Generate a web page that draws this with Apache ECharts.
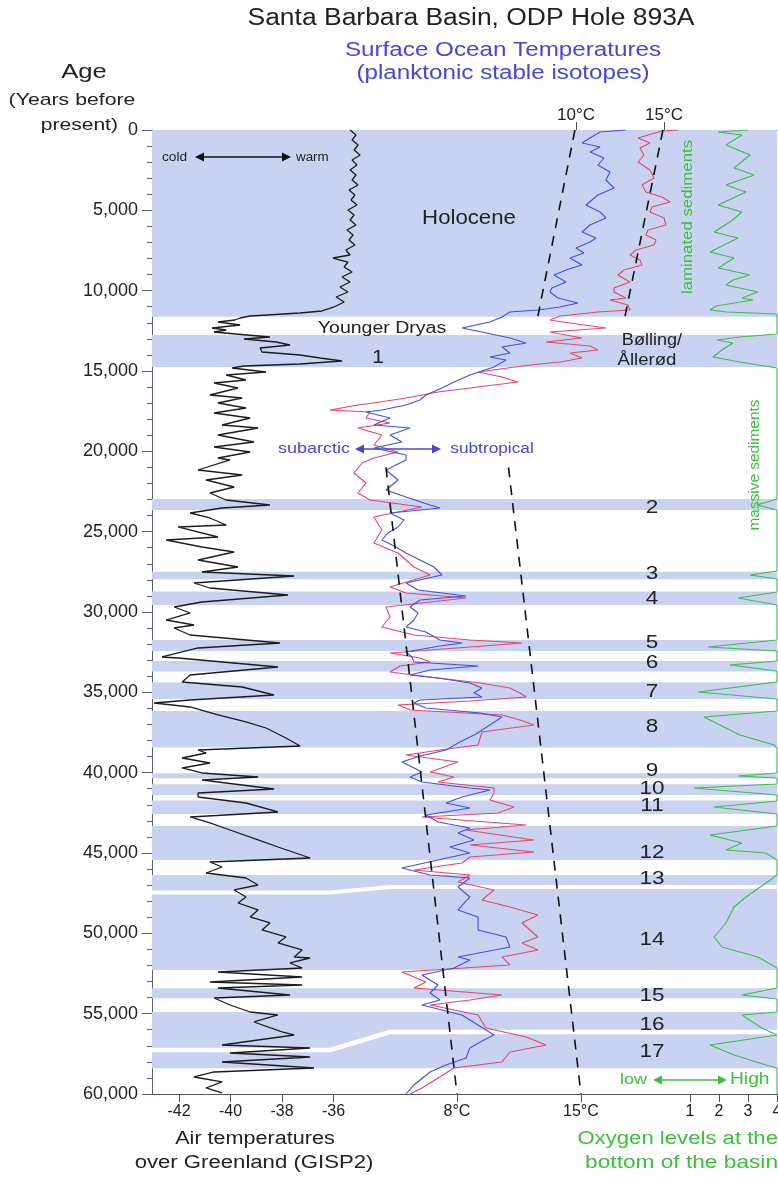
<!DOCTYPE html>
<html><head><meta charset="utf-8">
<script src="https://cdn.jsdelivr.net/npm/echarts@6/dist/echarts.min.js"></script>
<style>html,body{margin:0;padding:0;background:#fff}#c{width:778px;height:1188px}</style>
</head><body><div id="c"></div>
<script>
// ---------- DATA (age in years BP, value) ----------
const gispTicks = [-42,-40,-38,-36];
const sstBottomTicks = [8,15];
const sstTopTicks = [10,15];
const oxygenTicks = [1,2,3,4];

// interstadial (warm) bands [start age, end age]
const bands = [[0,11620],[12760,14750],[22970,23650],[27490,27960],[28730,29560],[31740,32430],[33050,33710],[34380,35410],[36160,38440],[40040,40350],[40720,41390],[41740,42570],[43320,45430],[46370,52280],[53420,54040],[54890,58400]];
// thin white separators inside merged bands [age, GISP2-scale x]
const gapLine1 = [[47460,-43.05],[47460,-36.14],[47120,-33.81],[47120,-18.78]];
const gapLine2 = [[57260,-43.05],[57260,-36.14],[56140,-33.81],[56140,-18.78]];

// band numbers [label, age]
const bandLabels = [['2',23500],['3',27650],['4',29200],['5',31930],['6',33180],['7',34980],['8',37170],['9',39880],['10',41020],['11',42070],['12',45000],['13',46620],['14',50420],['15',53900],['16',55700],['17',57380]];

// GISP2 air temperature (°C)
const gisp2 = [[0,-35.36],[311,-35.13],[622,-35.28],[934,-35.05],[1245,-35.20],[1556,-34.97],[1867,-35.28],[2178,-35.09],[2490,-35.36],[2801,-35.13],[3112,-35.28],[3423,-35.05],[3734,-35.40],[4046,-35.17],[4357,-35.32],[4668,-35.09],[4979,-35.44],[5290,-35.20],[5602,-35.36],[5913,-35.13],[6224,-35.48],[6535,-35.24],[6846,-35.40],[7158,-35.17],[7469,-35.52],[7780,-35.36],[7967,-36.02],[8216,-35.44],[8527,-35.59],[8838,-35.28],[9149,-35.67],[9460,-35.36],[9772,-35.75],[10083,-35.44],[10394,-35.90],[10705,-35.59],[11016,-35.98],[11265,-36.45],[11390,-37.30],[11577,-39.24],[11701,-39.63],
[11826,-39.83],[11950,-40.49],[12137,-39.63],[12323,-40.72],[12448,-40.17],[12572,-40.64],[12697,-39.79],[12884,-38.47],[13008,-39.48],[13195,-38.23],[13382,-37.69],[13569,-38.85],[13817,-38.78],[14004,-37.30],[14191,-36.52],[14378,-35.67],[14564,-37.30],[14689,-39.48],[14813,-39.94],
[15062,-38.62],[15249,-40.17],[15560,-39.40],[15747,-40.64],[16058,-39.71],[16494,-40.80],[16680,-39.55],[16992,-40.49],[17303,-39.40],[17614,-40.64],[17925,-39.24],[18361,-40.33],[18548,-38.93],[18983,-40.49],[19419,-39.09],[19730,-40.64],[20041,-39.24],[20415,-40.49],[20539,-40.02],[21162,-41.26],[21473,-39.55],[21784,-40.95],[22220,-39.86],[22593,-40.80],[23029,-40.17],[23340,-38.47],[23527,-40.33],[23838,-41.57],[24149,-40.80],[24585,-40.17],[24709,-42.04],[25332,-40.49],[25518,-42.50],[25954,-41.11],[26265,-39.86],[26763,-41.26],[27199,-39.71],[27510,-41.11],[27759,-37.53],[28195,-41.42],[28506,-40.80],[28942,-37.77],[29377,-41.11],[29688,-42.19],[30062,-41.57],[30498,-42.50],[30809,-41.42],
[30996,-42.19],[31431,-41.57],[31929,-38.08],[32240,-41.26],[32800,-42.66],[32863,-42.04],[33423,-38.16],[33921,-41.57],[34356,-41.88],[34668,-39.55],[35166,-38.31],[35477,-41.57],[35664,-42.97],[35912,-41.57],[36410,-40.49],[36846,-39.40],[37220,-38.62],[37842,-37.85],[38340,-37.30],[38589,-41.26],[38776,-40.95],[39087,-41.88],[39398,-40.80],[39709,-41.88],[40020,-41.11],[40269,-38.93],[40456,-41.11],[41016,-38.31],[41265,-41.26],
[41514,-41.26],[41888,-39.40],[42448,-38.16],[42759,-41.57],[43132,-40.80],[43568,-40.02],[44190,-38.93],[44626,-38.16],[45311,-36.91],[45560,-40.80],[45871,-40.33],[46244,-40.95],[46556,-39.40],[46991,-38.93],[47302,-39.86],[47738,-39.40],[48112,-39.71],[48547,-38.93],[48983,-39.24],[49356,-38.47],[49792,-38.78],[50228,-37.85],[50601,-38.16],[51037,-37.22],[51472,-37.53],
[51535,-36.91],[51846,-37.69],[52157,-37.22],[52406,-40.49],[52717,-37.22],[53028,-40.80],[53215,-37.22],[53402,-40.49],[53838,-37.69],[54024,-40.64],[54460,-40.02],[54896,-39.24],[55082,-38.16],[55518,-39.09],[56140,-38.00],[56327,-37.53],[56950,-40.33],[57136,-36.91],[57448,-40.02],[57696,-36.91],[58008,-40.33],[58381,-36.76],[58630,-40.64],[58941,-41.42],[59252,-40.33],[59626,-40.95],[59937,-40.33]];

// Planktonic isotope temperatures (plotted on bottom °C scale)
const sstBlue = [[0,17.54],[124,16.08],[498,15.51],[809,15.06],[1058,16.08],[1369,15.51],[1743,16.30],[2178,15.96],[2614,16.64],[3112,16.41],[3610,16.87],[4046,15.96],[4668,15.28],[5104,16.08],[5477,16.41],[5913,15.51],[6348,15.06],[6722,15.85],[6971,15.51],[7344,14.72],[7656,15.17],[7967,14.38],[8402,15.06],[8714,14.16],[9025,13.48],[9460,14.16],[9834,13.36],[10083,13.25],[10456,13.70],[10768,14.83],[11016,13.82],[11203,12.57],[11328,10.99],[11639,10.54],[11950,9.86],[12323,8.28],[12572,9.41],[12946,10.99],[13257,11.90],[13506,10.54],[13880,10.99],[14128,9.86],[14315,10.77],[14751,10.09],[15249,8.73],[15684,7.83],[16058,7.15],[16494,6.25],[16805,5.91],[17116,5.12],[17427,3.76],[17552,2.86],[17925,4.22],[18361,3.31],[18548,5.35],[18983,4.22],[19419,4.89],[19792,3.31],[20228,5.12],
[20539,5.12],[21162,3.99],[21784,4.67],[22406,3.99],[22842,5.12],[23340,6.48],[23527,7.04],[23838,4.22],[24274,5.01],[24709,4.67],[25083,4.10],[25518,3.76],[25954,4.56],[26327,5.12],[26763,5.91],[27199,6.70],[27697,7.15],[28195,5.12],[28630,5.80],[29004,8.51],[29253,5.91],[29688,5.35],[30062,5.80],[30498,5.57],[30933,5.12],[31244,6.25],[31742,7.04],[31929,8.28],[32116,7.04],[32489,5.12],[32800,5.46],[33111,5.57],[33360,9.19],[33608,6.48],[33921,5.35],[34107,6.93],[34419,8.73],[34730,9.41],[35041,8.96],[35290,9.41],[35477,5.91],[35664,5.57],[35976,6.25],[36286,9.30],[36535,10.54],[37033,9.86],[37593,9.07],[38153,8.06],[38589,7.38],[38962,5.91],[39336,4.89],[39647,5.46],[39958,6.02],[40269,5.35],[40580,6.02],[40953,8.73],[41078,9.86],[41514,8.28],[41888,7.38],[42199,8.73],[42634,6.25],[43070,6.93],[43444,8.73],[43755,8.06],[44190,8.96],[44626,7.60],[44999,8.73],[45435,6.93],[45933,4.89],[46369,6.48],[46556,8.73],[47116,8.06],[47738,8.73],[48547,8.06],[48983,9.19],[49792,9.19],[50228,10.77],[50850,10.99],[51472,8.06],[51659,8.73],[52157,7.83],[52592,6.02],[53215,6.93],[53713,6.48],[54149,7.04],[54460,6.02],[55082,8.28],[55705,9.19],[56327,10.09],[56763,9.30],[57136,8.73],[57758,8.51],[58194,7.38],[58630,6.48],[59439,5.57],[60000,5.12]];

const sstRed = [[0,20.48],[62,19.58],[498,18.22],[809,18.90],[1120,18.33],[1556,18.56],[1992,18.22],[2490,18.90],[2988,19.12],[3423,18.45],[3859,18.67],[4170,19.58],[4481,20.03],[4793,19.01],[5104,18.90],[5477,19.69],[5913,19.80],[6224,18.79],[6535,18.67],[6846,19.24],[7158,19.12],[7469,18.11],[7780,17.77],[8091,18.33],[8402,18.45],[8714,17.43],[9025,17.09],[9460,17.77],[9834,16.87],[10083,16.87],[10456,17.54],[10581,16.64],[10892,17.65],[11203,17.77],[11328,15.96],[11577,13.82],[11826,13.25],[12013,14.38],[12323,16.41],[12572,13.25],[12946,15.06],[13195,13.03],[13444,15.51],[13693,15.96],[13880,14.38],[14191,15.06],[14440,13.82],[14626,12.12],[15062,9.19],[15373,10.54],[15684,11.44],[15996,9.19],[16307,6.93],[16680,5.12],[16929,3.65],[17116,2.41],[17427,0.83],[17552,3.09],[17925,2.86],[18236,4.22],[18548,2.41],[18983,3.76],[19605,3.31],[20041,4.67],[20415,3.31],[20726,2.64],[21349,2.18],[21971,2.86],[22593,2.41],[23029,3.09],[23465,6.02],[24087,3.31],[24896,3.76],[25705,3.31],[26327,4.67],[27199,5.57],[27697,6.48],[28444,4.22],[28817,5.12],[29128,8.51],[29688,3.99],[30311,4.22],[30933,3.76],
[31431,5.57],[31742,8.73],[31929,11.67],[32178,8.73],[32551,4.22],[32863,5.91],[33111,6.48],[33360,4.78],[33733,4.22],[34107,6.93],[34419,9.30],[34730,10.99],[35041,11.56],[35290,11.90],[35540,8.73],[35790,4.67],[36099,5.35],[36410,10.54],[36722,11.56],[37033,12.35],[37468,9.41],[38277,9.19],[38589,7.04],[38900,5.12],[39336,8.06],[39958,6.48],[40269,7.83],[40580,6.93],[40953,10.09],[41265,10.09],
[41701,9.86],[42137,11.22],[42510,10.32],[42759,6.02],[43257,11.90],[43568,8.51],[44190,12.35],[44502,8.73],[44937,12.35],[45248,8.73],[45622,8.28],[46058,5.57],[46369,8.73],[46805,8.06],[47302,10.09],[47925,9.41],[48360,10.99],[48858,12.57],[49356,11.67],[49792,12.12],[50228,12.57],[50601,11.67],[51037,12.57],[51472,10.54],
[51970,10.99],[52406,4.89],[53028,6.25],[53402,5.57],[53838,10.54],[54149,8.73],[54460,6.48],[55082,9.19],[55892,9.64],[56452,11.90],[56950,13.03],[57385,10.99],[58008,10.54],[58381,7.83],[59003,6.93],[59626,6.02],[60000,5.35]];

// Oxygen level at the bottom of the basin (1 = low ... 4 = high)
const oxygen = [[0,3.00],[124,1.97],[311,2.79],[934,2.24],[1556,3.07],[2365,2.52],[2801,3.21],[3423,2.24],[3859,2.93],[4668,1.97],[5104,2.79],[5726,2.38],[6348,1.83],[6722,2.66],[7593,1.69],[7967,2.52],[8589,1.97],[9025,3.07],[9336,2.48],[9647,2.24],[10083,3.34],[10456,2.79],[10581,3.17],[10954,1.90],[11203,1.69],[11328,2.28],[11452,4.0],[12697,4.0],[12884,2.72],[13070,1.93],[13257,2.48],[13693,2.10],[14128,1.79],[14440,2.72],[14813,4.0],[22967,4.0],[23340,3.31],[23651,4.0],[27448,4.0],[27697,3.07],[27946,4.0],[28755,4.0],[29128,2.66],[29564,4.0],[31742,4.0],[32178,1.62],[32427,4.0],[33049,4.0],[33298,2.38],[33671,4.0],[34356,4.0],[34979,1.28],[35415,4.0],[36161,4.0],[36535,1.48],[37033,2.03],[37655,2.72],[38277,3.90],[38464,4.0],[40020,4.0],[40207,2.66],[40332,4.0],[40705,4.0],[40953,1.14],[41389,4.0],[41764,4.0],[42137,1.83],[42572,4.0],[43319,4.0],[43879,1.69],[44377,2.79],[44813,2.24],[44999,3.62],[45435,4.0],[46369,4.0],[46867,3.62],[47738,2.93],[48360,2.52],[49356,2.24],[50228,1.83],[50850,2.10],[51472,3.34],[52157,4.0],[53402,4.0],[53838,2.79],[54087,4.0],[54896,4.0],[55082,2.79],[55892,3.48],[56327,4.0],[56950,1.69],[57572,2.52],[58194,3.62],[58381,4.0],[60000,4.0]];

// dashed isotherm guide lines (bottom °C scale)
const isoUpper10 = [[0,14.66],[11580,12.57]];
const isoUpper15 = [[0,19.63],[11580,17.49]];
const isoLower8  = [[21000,3.99],[60000,8.0]];
const isoLower15 = [[21000,10.91],[60000,15.0]];

// ---------- CHART ----------
const FONT = '"Liberation Sans", Arial, sans-serif';
const BAND = '#c9d3f1';
const BLUE = '#3f4fe6', RED = '#e5456a', GREEN = '#3cbc4a', BLACK = '#1c1c1c';
const BLUE_T = '#4646d8', GREEN_T = '#3cbf3c';
const L = 152, T = 130, W = 625, H = 964;

const chart = echarts.init(document.getElementById('c'), null, {renderer:'canvas'});
const flip = arr => arr.map(d => [d[1], d[0]]);

function line(name, data, xi, color, width, extra) {
  return Object.assign({
    name, type:'line', xAxisIndex:xi, yAxisIndex:0, data:flip(data),
    showSymbol:false, symbol:'none', animation:false, silent:true,
    lineStyle:{color, width}, z:3
  }, extra || {});
}
function dashed(data) {
  return line('iso', data, 1, '#111', 1.6, {lineStyle:{color:'#111', width:1.6, type:[10,8]}, z:4});
}
function arrow(x1, x2, y, color) {
  const h = 4.5, len = 9;
  return [
    {type:'line', z:10, shape:{x1:x1+len-2, y1:y, x2:x2-len+2, y2:y}, style:{stroke:color, lineWidth:1.6}, silent:true},
    {type:'polygon', z:10, shape:{points:[[x1,y],[x1+len,y-h],[x1+len,y+h]]}, style:{fill:color}, silent:true},
    {type:'polygon', z:10, shape:{points:[[x2,y],[x2-len,y-h],[x2-len,y+h]]}, style:{fill:color}, silent:true}
  ];
}
function txt(text, x, y, size, color, align, sx, extra) {
  return Object.assign({type:'text', x, y, silent:true, z:10, scaleX: sx || 1,
    style:{text, fill:color, font: size + 'px ' + FONT, align: align || 'center', verticalAlign:'middle'}}, extra || {});
}

const tickStyle = {color:'#555', width:1};
const lblStyle = {fontSize:16, color:'#222', fontFamily:FONT};
function xAx(o) {
  return Object.assign({type:'value', splitLine:{show:false}, axisLine:{show:false, onZero:false}}, o);
}

const option = {
  animation:false,
  backgroundColor:'#fff',
  grid:{left:L, top:T, width:W, height:H, containLabel:false, outerBoundsMode:'none'},
  yAxis:{
    type:'value', inverse:true, min:0, max:60000, interval:5000,
    axisLine:{show:true, onZero:false, lineStyle:{color:'#5a6172', width:1}},
    axisTick:{show:true, length:10, lineStyle:{color:'#5a6172'}},
    minorTick:{show:true, splitNumber:5, length:5, lineStyle:{color:'#5a6172'}},
    axisLabel:{margin:14, fontSize:18, color:'#222', fontFamily:FONT,
      formatter: v => v === 0 ? '0' : v.toLocaleString('en-US')},
    splitLine:{show:false}
  },
  xAxis:[
    xAx({position:'bottom', min:-43.05, max:-18.78,
      axisLine:{show:true, onZero:false, lineStyle:{color:'#555', width:1}},
      axisTick:{show:true, customValues:gispTicks, length:8, lineStyle:tickStyle},
      axisLabel:Object.assign({customValues:gispTicks, margin:10}, lblStyle)}),
    xAx({position:'bottom', min:-9.22, max:26.07,
      axisTick:{show:true, customValues:sstBottomTicks, length:8, lineStyle:tickStyle},
      axisLabel:Object.assign({customValues:sstBottomTicks, margin:10, formatter:'{value}°C'}, lblStyle)}),
    xAx({position:'bottom', min:-17.55, max:4,
      axisTick:{show:true, customValues:oxygenTicks, length:8, lineStyle:tickStyle},
      axisLabel:Object.assign({customValues:oxygenTicks, margin:10}, lblStyle)}),
    xAx({position:'top', min:-14.09, max:21.42,
      axisLine:{show:true, onZero:false, lineStyle:{color:'#555', width:1}},
      axisTick:{show:true, customValues:sstTopTicks, length:8, lineStyle:tickStyle},
      axisLabel:Object.assign({customValues:sstTopTicks, margin:6, formatter:'{value}°C'}, lblStyle, {fontSize:17})})
  ],
  series:[
    {type:'line', name:'bands', xAxisIndex:0, yAxisIndex:0, data:[[-43,0]], symbol:'none', showSymbol:false,
      lineStyle:{opacity:0}, silent:true, z:1,
      markArea:{silent:true, itemStyle:{color:BAND}, data: bands.map(b => [{yAxis:b[0]}, {yAxis:b[1]}])}},
    line('gap1', gapLine1, 0, '#ffffff', 4, {z:2}),
    line('gap2', gapLine2, 0, '#ffffff', 4.5, {z:2}),
    dashed(isoUpper10), dashed(isoUpper15), dashed(isoLower8), dashed(isoLower15),
    line('GISP2', gisp2, 0, BLACK, 1.3),
    line('red', sstRed, 1, RED, 1.1),
    line('blue', sstBlue, 1, BLUE, 1.1),
    line('oxygen', oxygen, 2, GREEN, 1.1)
  ]
};
chart.setOption(option);

// text annotations (band numbers positioned through the age axis)
const yOf = age => chart.convertToPixel({yAxisIndex:0}, age);
const g = [
  txt('Santa Barbara Basin, ODP Hole 893A', 471, 19, 23, '#222', 'center', 1.15),
  txt('Surface Ocean Temperatures', 503, 50, 20, BLUE_T, 'center', 1.21),
  txt('(planktonic stable isotopes)', 503, 73, 20, BLUE_T, 'center', 1.21),
  txt('Age', 84, 72, 21, '#222', 'center', 1.22),
  txt('(Years before', 72, 100, 17, '#222', 'center', 1.25),
  txt('present)', 118, 125, 17, '#222', 'right', 1.24),
  txt('cold', 162, 157, 13, '#222', 'left', 1.05),
  ...arrow(195, 291, 157, '#111'),
  txt('warm', 296, 157, 13, '#222', 'left', 1.03),
  txt('Holocene', 469, 218, 20, '#222', 'center', 1.11),
  txt('Younger Dryas', 382, 329, 16, '#222', 'center', 1.22),
  txt('1', 378, 358, 18, '#222', 'center', 1.2),
  txt('Bølling/', 652, 341, 16, '#222', 'center', 1.13),
  txt('Ållerød', 647, 361, 16, '#222', 'center', 1.16),
  txt('subarctic', 314, 449, 15, BLUE_T, 'center', 1.2),
  ...arrow(355, 441, 449, BLUE_T),
  txt('subtropical', 492, 449, 15, BLUE_T, 'center', 1.15),
  txt('laminated sediments', 688, 217, 14, GREEN_T, 'center', 1.2, {rotation:Math.PI/2}),
  txt('massive sediments', 755, 465, 14, GREEN_T, 'center', 1.1, {rotation:Math.PI/2}),
  txt('low', 620, 1080, 15, GREEN_T, 'left', 1.2),
  ...arrow(653, 727, 1080, GREEN_T),
  txt('High', 730, 1080, 16, GREEN_T, 'left', 1.2),
  txt('Air temperatures', 255, 1139, 18, '#222', 'center', 1.2),
  txt('over Greenland (GISP2)', 254, 1163, 18, '#222', 'center', 1.23),
  txt('Oxygen levels at the', 778, 1139, 18, GREEN_T, 'right', 1.23),
  txt('bottom of the basin', 778, 1163, 18, GREEN_T, 'right', 1.26),
  ...bandLabels.map(b => txt(b[0], 652, yOf(b[1]), 18, '#222', 'center', 1.25))
];
chart.setOption({graphic: g});
</script></body></html>
